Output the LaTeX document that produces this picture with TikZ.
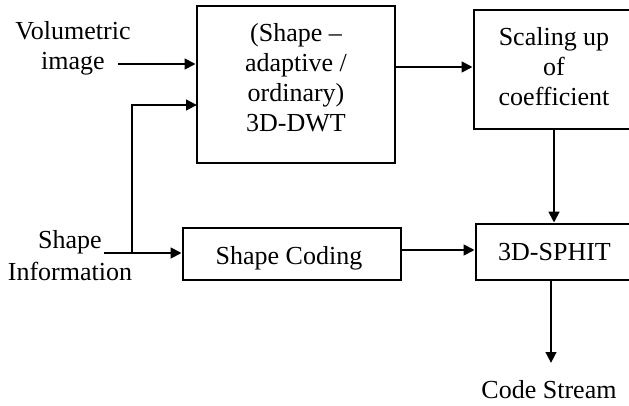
\documentclass[tikz,border=0pt]{standalone}
\usepackage{fontspec}
\setmainfont{Liberation Serif}
\usetikzlibrary{arrows.meta}
\tikzset{
  blk/.style={draw, line width=2.7pt, inner sep=0pt},
  txt/.style={font=\fontsize{26}{30}\selectfont, align=center, inner sep=0pt, anchor=base},
  flow/.style={line width=2.7pt, -{Triangle[length=11pt,width=10.5pt]}},
}
\begin{document}
\begin{tikzpicture}[x=1pt,y=-1pt]
  \useasboundingbox (0,0) rectangle (629,406);
  \clip (0,0) rectangle (629,406);

  % processing blocks
  \node[blk, minimum width=198pt, minimum height=157pt] (dwt) at (296,84.5) {};
  \node[blk, minimum width=160pt, minimum height=119pt] (scale) at (554,69.5) {};
  \node[blk, minimum width=218pt, minimum height=52pt] (shc) at (292,254) {};
  \node[blk, minimum width=157pt, minimum height=56pt] (spiht) at (554.5,252) {};

  % block captions (anchored at the baseline of the last line)
  \node[txt] (dwtt) at (296,132) {(Shape –\\adaptive /\\ordinary)\\3D-DWT};
  \node[txt] (scalet) at (554,106) {Scaling up\\of\\coefficient};
  \node[txt] (shct) at (289,264) {Shape Coding};
  \node[txt] (spihtt) at (554.5,260) {3D-SPHIT};

  % inputs and output
  \node[txt] (vol) at (73,70) {Volumetric\\image};
  \node[txt] (shinfo) at (70,280) {Shape\\[2pt]Information};
  \node[txt] (cs) at (549,398) {Code Stream};

  \coordinate (volstart) at (118,64);
  \coordinate (shstart) at (104,253);
  \coordinate (split) at (132,253);
  \coordinate (dwtin) at (197,105);
  \coordinate (csend) at (551,363);

  % connectors
  \draw[flow] (volstart) -- (volstart -| dwt.west);
  \draw[flow] (shstart) -- (shstart -| shc.west);
  \draw[flow] (split) |- (dwtin);
  \draw[flow] (dwt.east |- 0,67) -- (scale.west |- 0,67);
  \draw[flow] (scale.south) -- (scale.south |- spiht.north);
  \draw[flow] (shc.east |- 0,250) -- (spiht.west |- 0,250);
  \draw[flow] (spiht.south -| csend) -- (csend);
\end{tikzpicture}
\end{document}
